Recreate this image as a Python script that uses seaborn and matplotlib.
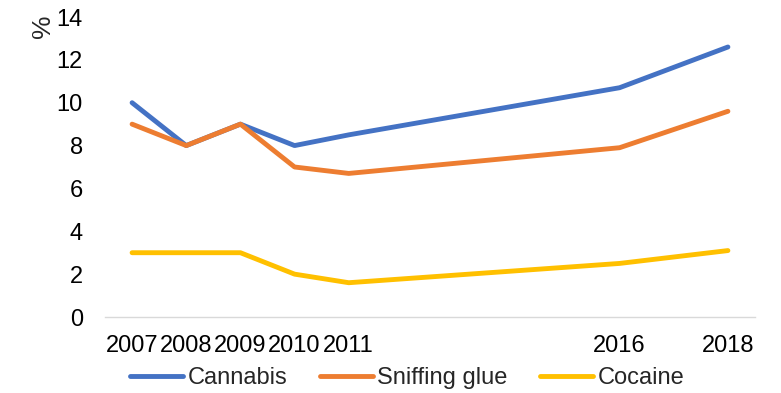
import numpy as np
import pandas as pd
import matplotlib.pyplot as plt
import seaborn as sns

# 데이터
years = [2007, 2008, 2009, 2010, 2011, 2016, 2018]
cannabis = [10, 8, 9, 8, 8.5, 10.7, 12.6]
sniffing_glue = [9, 8, 9, 7, 6.7, 7.9, 9.6]
cocaine = [3, 3, 3, 2, 1.6, 2.5, 3.1]
series_names = ['Cannabis', 'Sniffing glue', 'Cocaine']
colors = ['#4472C4', '#ED7D31', '#FFC000']

df = pd.DataFrame({'year': years, 'Cannabis': cannabis,
                   'Sniffing glue': sniffing_glue, 'Cocaine': cocaine})
df_long = df.melt(id_vars='year', var_name='drug', value_name='pct')

sns.set_style('white')
plt.rcParams['font.family'] = ['Liberation Sans', 'DejaVu Sans']

fs = 17
fig = plt.figure(figsize=(7.81, 3.93), dpi=100)
ax = fig.add_axes([105 / 781, 1 - 317 / 393, 650 / 781, 300 / 393])

sns.lineplot(data=df_long, x='year', y='pct', hue='drug', hue_order=series_names,
             palette=colors, linewidth=3.5, ax=ax, legend=True)

ax.set_xlim(2006.5, 2018.5)
ax.set_ylim(0, 14)
ax.set_xticks(years)
ax.set_xticklabels([str(y) for y in years])
ax.set_yticks(np.arange(0, 15, 2))
ax.tick_params(axis='both', labelsize=fs, length=0, colors='#000000')
ax.tick_params(axis='x', pad=13)
ax.tick_params(axis='y', pad=16)

for s in ['top', 'right', 'left']:
    ax.spines[s].set_visible(False)
ax.spines['bottom'].set_color('#D9D9D9')
ax.spines['bottom'].set_linewidth(1)

ax.set_xlabel('')
ax.set_ylabel('%', fontsize=19, loc='top')
ax.yaxis.set_label_coords(-0.077, 1.01)

ax.legend(loc='center', bbox_to_anchor=(0.465, -0.203), ncol=3, frameon=False,
          fontsize=fs, handlelength=2.25, handletextpad=0.2, columnspacing=1.35,
          borderaxespad=0, borderpad=0)

fig.savefig('out.png', dpi=100)
